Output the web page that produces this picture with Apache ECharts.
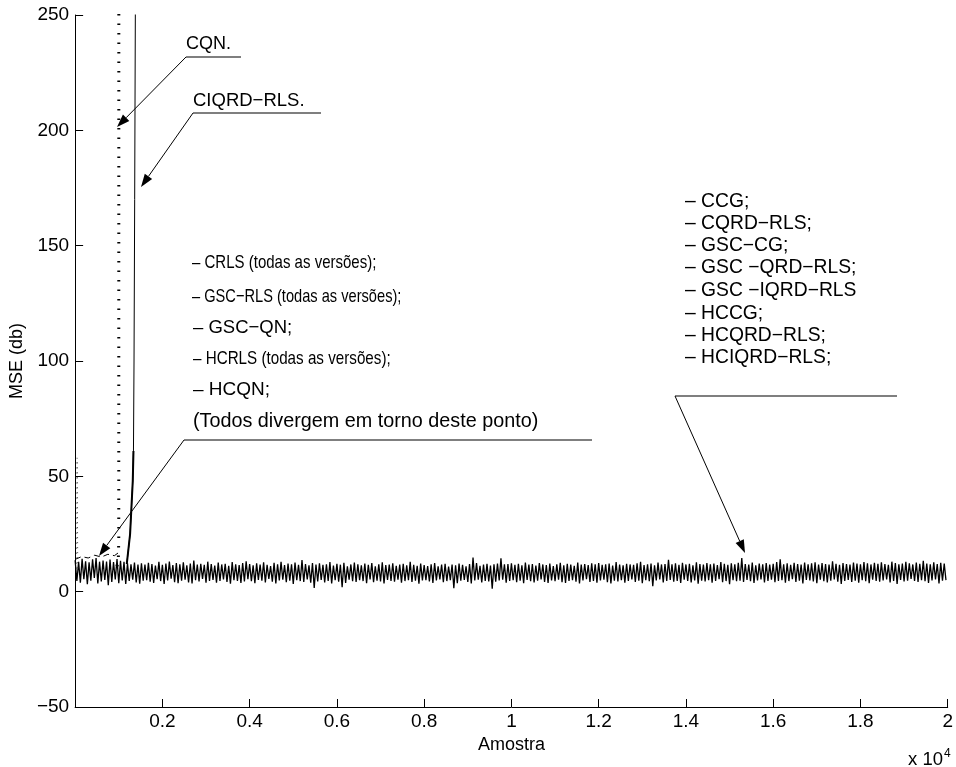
<!DOCTYPE html>
<html><head><meta charset="utf-8">
<script src="https://cdn.jsdelivr.net/npm/echarts@6/dist/echarts.min.js"></script>
<style>html,body{margin:0;padding:0;background:#fff}#c{width:956px;height:767px}</style>
</head><body><div id="c"></div>
<script>
// ---- data ----
// converged algorithms: MSE noise band, upper/lower excursions per 80-sample block
const noiseStep = 80;
const noiseHi = [
13.6,12.9,14.3,13.2,12.7,14.0,14.6,13.0,13.5,13.1,
13.9,12.8,14.1,13.4,12.9,12.3,11.9,12.6,11.8,12.3,
11.7,12.5,12.0,11.3,12.9,11.6,12.2,13.1,11.5,12.4,
11.9,12.7,11.4,12.2,13.5,11.8,12.1,11.6,13.0,12.0,
11.3,12.6,11.8,12.1,11.2,12.8,11.9,11.5,12.4,13.2,
12.0,11.4,12.3,11.8,12.7,11.6,11.1,12.5,11.9,12.9,
11.5,12.2,11.9,12.6,11.6,13.7,12.0,11.4,12.4,11.8,
12.3,11.6,11.9,12.8,11.3,12.1,11.7,12.5,11.0,11.8,
12.6,11.9,11.4,12.2,11.6,12.4,11.0,11.9,12.7,11.5,
11.8,12.3,11.2,11.7,12.1,11.4,12.9,11.6,11.2,12.2,
11.5,11.1,11.9,12.4,11.0,11.7,12.1,10.9,11.8,11.4,
12.2,11.6,11.0,12.0,14.8,12.4,11.2,11.7,12.1,11.3,
11.9,12.2,14.5,11.9,12.0,12.3,11.6,12.1,11.4,12.6,
11.7,12.0,11.3,12.4,11.8,11.5,12.2,11.1,11.9,12.5,
11.4,12.1,11.8,11.2,12.6,11.7,12.0,11.5,12.3,11.9,
12.4,11.6,11.9,12.2,11.3,12.8,11.7,11.4,12.1,11.8,
11.6,12.3,12.9,11.5,11.9,12.2,11.4,12.6,11.8,12.0,
13.8,11.9,12.3,11.6,12.5,11.8,12.1,11.4,12.7,12.0,
11.7,12.4,11.9,12.2,11.5,12.8,12.1,11.6,12.3,11.9,
12.5,14.6,12.0,11.8,12.6,11.4,12.2,11.9,12.4,11.7,
12.1,12.8,14.0,11.9,12.3,11.6,12.5,12.0,11.8,12.6,
11.9,12.3,12.7,11.7,12.4,12.0,11.8,13.2,12.1,11.6,
12.4,12.0,11.7,12.6,12.2,11.9,12.8,12.3,11.8,12.5,
12.1,12.7,12.0,11.6,13.0,12.4,11.9,12.2,12.9,12.3,
11.8,12.6,12.1,13.4,12.2,11.9,12.7,12.0,12.5,12.2
];
const noiseLo = [
4.6,3.9,5.4,3.2,4.8,5.9,3.6,4.4,5.1,2.8,
4.2,5.3,3.7,4.9,3.4,4.6,5.2,4.0,3.5,4.8,
5.0,4.3,3.8,5.4,4.6,3.3,4.9,5.6,4.1,3.7,
4.8,5.2,4.0,3.6,5.0,4.4,5.5,3.9,4.7,5.1,
3.9,4.6,5.3,4.2,3.5,5.0,4.7,3.8,4.4,5.4,
4.5,3.7,5.1,4.8,4.0,5.5,4.3,3.6,4.9,5.2,
4.1,4.8,3.4,5.0,4.6,4.2,5.3,3.9,1.6,4.4,
5.1,4.0,4.7,3.6,5.0,4.3,1.9,3.8,5.2,4.5,
4.2,5.0,4.6,3.7,5.3,4.1,4.8,4.4,3.6,5.1,
4.7,4.3,5.2,3.9,4.6,5.0,4.2,4.8,3.5,4.9,
5.0,4.4,3.8,4.9,5.3,4.1,4.6,5.0,1.5,3.7,
4.8,5.1,4.2,3.6,4.9,5.2,4.0,4.7,4.4,1.3,
4.3,4.9,5.2,3.9,4.6,5.0,4.1,4.8,3.7,5.1,
4.5,4.0,4.8,5.3,4.2,3.8,4.9,4.5,5.2,4.1,
3.8,4.7,5.0,4.3,3.6,4.9,5.4,4.2,4.6,3.9,
4.9,5.2,4.1,3.6,4.8,4.4,5.0,3.9,4.7,5.3,
4.2,4.8,3.7,5.0,4.5,2.4,4.9,5.3,4.0,4.6,
5.1,4.3,4.7,3.8,5.2,4.6,4.0,4.9,3.5,4.8,
4.4,5.0,3.9,4.7,5.4,4.1,4.6,3.2,5.0,4.5,
4.8,4.2,5.1,4.5,3.8,4.9,5.3,4.0,4.7,5.2,
4.1,4.7,5.0,3.9,4.6,5.4,4.2,4.8,3.6,5.1,
4.9,4.4,3.7,5.2,4.5,4.0,4.8,5.3,4.3,3.3,
4.6,5.1,4.2,4.8,3.9,5.0,4.5,3.7,5.2,4.7,
4.3,4.9,5.3,4.0,4.6,3.4,5.1,4.4,4.8,5.5,
4.7,4.2,5.0,4.5,3.8,4.9,5.3,3.6,4.8,5.0
];
// group that diverges early ("Todos divergem em torno deste ponto")
const earlyX = [0, 150, 300, 450, 600, 750, 900, 1000];
const earlyY = [14.0, 15.2, 14.6, 15.8, 15.0, 16.2, 15.6, 17.0];
// CQN divergence (dotted)
const cqnX = [960, 990, 1000, 1002];
const cqnY = [11, 14, 22, 320];
// CIQRD-RLS divergence (solid)
const ciqrdX = [1184, 1260, 1321, 1337, 1350, 1365, 1380, 1390];
const ciqrdY = [12, 25, 48, 61, 100, 170, 250, 320];
// early spike at the very start (dotted)
const startX = [30, 45, 60];
const startY = [10, 58, 10];

// ---- build ----
const pair = (xs, ys) => xs.map((x, i) => [x, ys[i]]);
const noiseData = [];
noiseHi.forEach((h, i) => {
  noiseData.push([i * noiseStep, h]);
  noiseData.push([i * noiseStep + noiseStep / 2, noiseLo[i]]);
});

const FONT = 'Liberation Sans';
const FS = 19;
const chart = echarts.init(document.getElementById('c'), null, {renderer: 'canvas'});

// [text, left x, centre y, font size, horizontal scale]
const textItems = [
  ['CQN.', 186, 44, 18, 1],
  ['CIQRD\u2212RLS.', 193, 101, 18.5, 1],
  ['\u2013 CRLS (todas as versões);', 192, 263, 19, 0.79],
  ['\u2013 GSC\u2212RLS (todas as versões);', 192, 297, 19, 0.77],
  ['\u2013 GSC\u2212QN;', 193, 328, 18.5, 1],
  ['\u2013 HCRLS (todas as versões);', 193, 359, 19, 0.8],
  ['\u2013 HCQN;', 193, 390, 19, 1],
  ['(Todos divergem em torno deste ponto)', 193, 422, 19.8, 1],
  ['\u2013 CCG;', 685, 202, 19.3, 1],
  ['\u2013 CQRD\u2212RLS;', 685, 224, 19.3, 1],
  ['\u2013 GSC\u2212CG;', 685, 246, 19.3, 1],
  ['\u2013 GSC \u2212QRD\u2212RLS;', 685, 268, 19.3, 1],
  ['\u2013 GSC \u2212IQRD\u2212RLS', 685, 291, 19.3, 1],
  ['\u2013 HCCG;', 685, 314, 19.3, 1],
  ['\u2013 HCQRD\u2212RLS;', 685, 336, 19.3, 1],
  ['\u2013 HCIQRD\u2212RLS;', 685, 358, 19.3, 1]
];
const underlines = [
  [186, 57, 241, 57],
  [193, 113, 321, 113],
  [184, 440, 592, 440],
  [675, 396, 897, 396]
];
const arrows = [
  [186, 57, 117, 127],
  [193, 113, 141, 187],
  [184, 440, 99, 556],
  [675, 396, 745, 553]
];

const graphics = [];
textItems.forEach(t => graphics.push({
  type: 'text', x: t[1], y: t[2], scaleX: t[4], silent: true,
  style: {text: t[0], fill: '#000', font: t[3] + 'px "' + FONT + '"', textVerticalAlign: 'middle', textAlign: 'left'}
}));
underlines.forEach(l => graphics.push({
  type: 'line', silent: true, shape: {x1: l[0], y1: l[1], x2: l[2], y2: l[3]},
  style: {stroke: '#555', lineWidth: 1.3}
}));
arrows.forEach(a => {
  const [x1, y1, x2, y2] = a;
  const ang = Math.atan2(y2 - y1, x2 - x1);
  const L = 13, W = 4.5;
  const bx = x2 - L * Math.cos(ang), by = y2 - L * Math.sin(ang);
  const px = -Math.sin(ang) * W, py = Math.cos(ang) * W;
  graphics.push({type: 'line', silent: true, shape: {x1: x1, y1: y1, x2: bx, y2: by}, style: {stroke: '#000', lineWidth: 1}});
  graphics.push({type: 'polygon', silent: true, shape: {points: [[x2, y2], [bx + px, by + py], [bx - px, by - py]]}, style: {fill: '#000'}});
});
graphics.push({
  type: 'text', x: 908, y: 760, silent: true,
  style: {
    text: 'x 10{s|4}', fill: '#000', font: '18.5px "' + FONT + '"', textVerticalAlign: 'middle',
    rich: {s: {fontSize: 12, fontFamily: FONT, verticalAlign: 'top', padding: [0, 0, 13, 1]}}
  }
});

const axisCommon = {
  axisLine: {show: true, onZero: false, lineStyle: {color: '#000', width: 1}},
  axisTick: {show: true, inside: true, length: 8, lineStyle: {color: '#000'}},
  splitLine: {show: false},
  axisLabel: {color: '#000', fontFamily: FONT, fontSize: FS},
  nameTextStyle: {color: '#000', fontFamily: FONT, fontSize: 18}
};

chart.setOption({
  animation: false,
  backgroundColor: '#fff',
  grid: {left: 73, right: 5, top: 15, bottom: 60, containLabel: false},
  xAxis: Object.assign({}, axisCommon, {
    type: 'value', min: 0, max: 20000, interval: 2000,
    name: 'Amostra', nameLocation: 'middle', nameGap: 29,
    axisLabel: Object.assign({}, axisCommon.axisLabel, {
      margin: 5,
      formatter: v => v === 0 ? '' : String(+(v / 10000).toFixed(1))
    })
  }),
  yAxis: Object.assign({}, axisCommon, {
    type: 'value', min: -50, max: 250, interval: 50,
    name: 'MSE (db)', nameLocation: 'middle', nameGap: 48, nameRotate: 90,
    axisLabel: Object.assign({}, axisCommon.axisLabel, {
      margin: 6, formatter: v => v < 0 ? '\u2212' + Math.abs(v) : String(v)
    })
  }),
  series: [
    {type: 'line', name: 'converged', data: noiseData, showSymbol: false, silent: true,
     lineStyle: {color: '#000', width: 1.3}},
    {type: 'line', name: 'early', data: pair(earlyX, earlyY), showSymbol: false, silent: true,
     lineStyle: {color: '#000', width: 1, type: [6, 4]}},
    {type: 'line', name: 'start', data: pair(startX, startY), showSymbol: false, silent: true,
     lineStyle: {color: '#444', width: 1, type: [1, 4]}},
    {type: 'line', name: 'CQN', data: pair(cqnX, cqnY), showSymbol: false, silent: true,
     lineStyle: {color: '#000', width: 3, type: [1.5, 8], cap: 'butt'}},
    {type: 'line', name: 'CIQRD-RLS', data: pair(ciqrdX, ciqrdY), showSymbol: false, silent: true,
     lineStyle: {color: '#000', width: 1}},
    {type: 'line', name: 'CIQRD-RLS-low', data: pair(ciqrdX.slice(0, 4), ciqrdY.slice(0, 4)), showSymbol: false, silent: true,
     lineStyle: {color: '#000', width: 2}}
  ],
  graphic: graphics
});
</script>
</body></html>
